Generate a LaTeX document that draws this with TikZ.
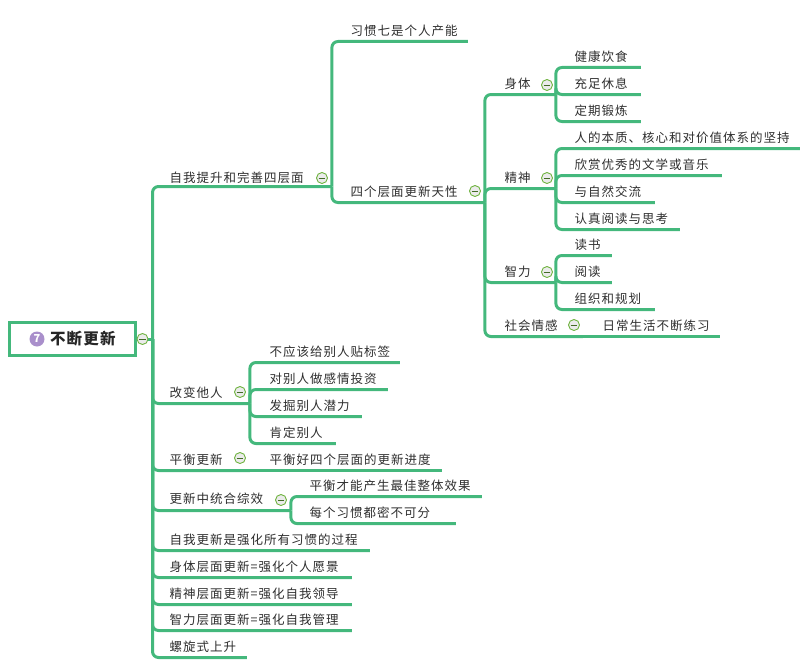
\documentclass[tikz,border=0pt]{standalone}
\usepackage{fontspec}
\setmainfont[LetterSpace=8]{Noto Sans CJK SC}
\definecolor{branchgreen}{HTML}{44B87C}
\definecolor{foldgreen}{HTML}{6FB33F}
\definecolor{iconpurple}{HTML}{A98FCB}
\definecolor{inkgray}{HTML}{2E2E2E}
\begin{document}
\begin{tikzpicture}[
        x=1pt, y=-1pt,
        topic/.style={text width=#1, inner sep=0pt, anchor=south west, align=left,
                      xshift=-0.5pt, yshift=-0.5pt,
                      text height=14pt, text depth=6pt, text=inkgray,
                      font=\fontsize{12.5}{14}\selectfont},
        link/.style={draw=branchgreen, line width=3pt, rounded corners=6pt},
        fold/.style={circle, draw=foldgreen, line width=0.9pt, fill=black!8,
                     minimum size=11pt, inner sep=0pt,
                     path picture={\draw[foldgreen!60!black, line width=1pt]
                         ([xshift=-3.4pt]path picture bounding box.center) --
                         ([xshift=3.4pt]path picture bounding box.center);}},
        rootbox/.style={rectangle, draw=branchgreen, line width=3pt, fill=white,
                        minimum height=33pt, text width=126pt, inner sep=0pt, align=left,
                        text=black!85, font=\fontsize{15.5}{18}\selectfont\bfseries}
    ]
    \useasboundingbox (0,0) rectangle (800,669);

    % Raiz
    \node[rootbox] (root) at (72.5,339) {\hspace*{40.5pt}不断更新};
    \node[circle, fill=iconpurple, minimum size=15pt, inner sep=0pt, text=white,
          font=\fontsize{11}{11}\selectfont\bfseries] (rootIcon) at (37,339) {7};
    \coordinate (rootHub) at (152.5,339);
    \draw[link] (root.east) -- (rootHub);

    % Primer nivel
    \node[topic=162pt, text depth=4pt] (selfRenew) at (170,186) {自我提升和完善四层面};
    \node[topic=80pt] (changeOthers) at (170,403) {改变他人};
    \node[topic=80pt] (balanceRenew) at (170,470) {平衡更新};
    \node[topic=121pt, text depth=6.5pt] (synergy) at (170,510) {更新中统合综效};
    \node[topic=200pt] (strengthen) at (170,550) {自我更新是强化所有习惯的过程};
    \node[topic=182pt] (bodyRenew) at (170,577) {身体层面更新=强化个人愿景};
    \node[topic=182pt] (mindRenew) at (170,604) {精神层面更新=强化自我领导};
    \node[topic=182pt] (brainRenew) at (170,630) {智力层面更新=强化自我管理};
    \node[topic=77pt] (spiral) at (170,657) {螺旋式上升};
    \foreach \kid in {selfRenew,changeOthers,balanceRenew,synergy,strengthen,bodyRenew,mindRenew,brainRenew,spiral}
        \draw[link] (rootHub) |- (\kid.south west) -- (\kid.south east);

    % Hijos de autorrenovacion
    \node[topic=117pt] (habitSeven) at (351,41) {习惯七是个人产能};
    \node[topic=134pt] (fourAspects) at (351,202) {四个层面更新天性};
    \foreach \kid in {habitSeven,fourAspects}
        \draw[link] (selfRenew.south east) |- (\kid.south west) -- (\kid.south east);

    % Cuatro aspectos
    \node[topic=51pt] (body) at (505,94) {身体};
    \node[topic=51pt] (spirit) at (505,188) {精神};
    \node[topic=51pt] (brain) at (505,282) {智力};
    \node[topic=78pt] (social) at (505,336) {社会情感};
    \foreach \kid in {body,spirit,brain,social}
        \draw[link] (fourAspects.south east) |- (\kid.south west) -- (\kid.south east);

    % Cuerpo
    \node[topic=66pt] (food) at (575,67) {健康饮食};
    \node[topic=66pt] (rest) at (575,94) {充足休息};
    \node[topic=66pt] (exercise) at (575,121) {定期锻炼};
    \foreach \kid in {food,rest,exercise}
        \draw[link] (body.south east) |- (\kid.south west) -- (\kid.south east);

    % Espiritu
    \node[topic=225pt] (values) at (575,148) {人的本质、核心和对价值体系的坚持};
    \node[topic=147pt] (music) at (575,175) {欣赏优秀的文学或音乐};
    \node[topic=80pt] (nature) at (575,202) {与自然交流};
    \node[topic=105pt] (reading) at (575,229) {认真阅读与思考};
    \foreach \kid in {values,music,nature,reading}
        \draw[link] (spirit.south east) |- (\kid.south west) -- (\kid.south east);

    % Mente
    \node[topic=37pt] (books) at (575,255) {读书};
    \node[topic=37pt] (study) at (575,282) {阅读};
    \node[topic=80pt] (planning) at (575,309) {组织和规划};
    \foreach \kid in {books,study,planning}
        \draw[link] (brain.south east) |- (\kid.south west) -- (\kid.south east);

    % Social
    \node[topic=117pt] (practice) at (603,336) {日常生活不断练习};
    \draw[link] (social.south east) -- (practice.south east);

    % Cambiar a otros
    \node[topic=130pt] (noLabels) at (270,362) {不应该给别人贴标签};
    \node[topic=118pt] (invest) at (270,389) {对别人做感情投资};
    \node[topic=92pt] (potential) at (270,416) {发掘别人潜力};
    \node[topic=66pt] (affirm) at (270,443) {肯定别人};
    \foreach \kid in {noLabels,invest,potential,affirm}
        \draw[link] (changeOthers.south east) |- (\kid.south west) -- (\kid.south east);

    % Equilibrio y sinergia
    \node[topic=172pt] (balanceFour) at (270,470) {平衡好四个层面的更新进度};
    \draw[link] (balanceRenew.south east) -- (balanceFour.south east);
    \node[topic=172pt] (bestEffect) at (310,496) {平衡才能产生最佳整体效果};
    \node[topic=146pt] (allHabits) at (310,523) {每个习惯都密不可分};
    \foreach \kid in {bestEffect,allHabits}
        \draw[link] (synergy.south east) |- (\kid.south west) -- (\kid.south east);

    % Botones de plegado
    \node[fold] (foldRoot) at (142.5,339) {};
    \node[fold] (foldSelf) at (322,178) {};
    \node[fold] (foldAspects) at (475,191) {};
    \node[fold] (foldBody) at (547,85) {};
    \node[fold] (foldSpirit) at (547,178) {};
    \node[fold] (foldBrain) at (547,272) {};
    \node[fold] (foldSocial) at (574,325) {};
    \node[fold] (foldOthers) at (240,392) {};
    \node[fold] (foldBalance) at (240,458) {};
    \node[fold] (foldSynergy) at (281,500) {};

\end{tikzpicture}
\end{document}
